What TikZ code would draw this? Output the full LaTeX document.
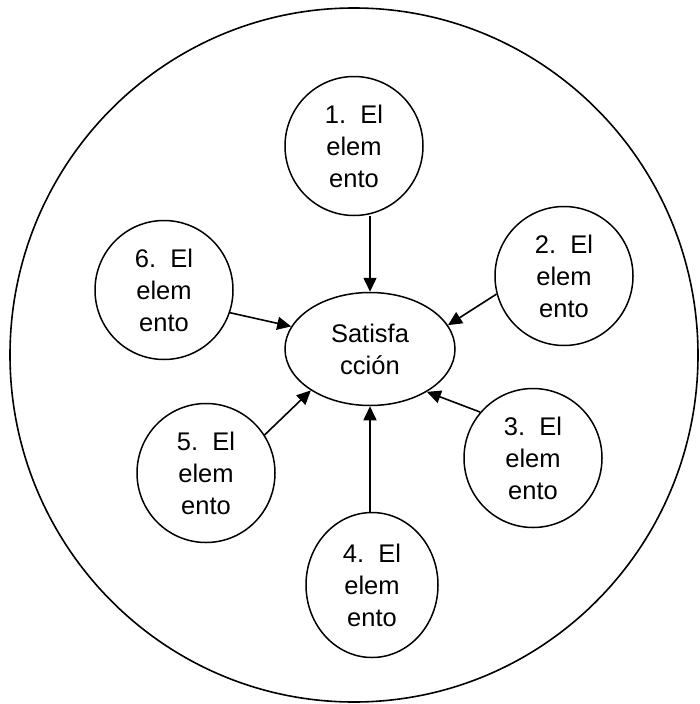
\documentclass[tikz,border=0pt]{standalone}
\usepackage{fontspec}
\setmainfont{Liberation Sans}
\usetikzlibrary{shapes.geometric,arrows.meta}
\begin{document}
\begin{tikzpicture}[x=1pt,y=-1pt,
  elem/.style={draw,line width=1.5pt,ellipse,minimum width=138pt,minimum height=139pt,inner sep=0pt,align=center,font=\fontsize{25.5}{32}\selectfont},
  conn/.style={line width=1.6pt,-{Triangle[length=14pt,width=13pt]}}]
\useasboundingbox (0,0) rectangle (699,704);
\node[draw,line width=1.6pt,ellipse,minimum width=688pt,minimum height=694pt,inner sep=0pt] (outer) at (354,355) {};
\node[draw,line width=1.5pt,ellipse,minimum width=170pt,minimum height=113pt,inner sep=0pt,align=center,font=\fontsize{25.5}{32}\selectfont] (S) at (370,349) {Satisfa\\cción};
\node[elem] (c1) at (354,146) {1.\ \ El\\elem\\ento};
\node[elem] (c2) at (564,276) {2.\ \ El\\elem\\ento};
\node[elem] (c3) at (533,458) {3.\ \ El\\elem\\ento};
\node[elem,minimum width=132pt,minimum height=145pt] (c4) at (372,585) {4.\ \ El\\elem\\ento};
\node[elem] (c5) at (206,473) {5.\ \ El\\elem\\ento};
\node[elem] (c6) at (164,290) {6.\ \ El\\elem\\ento};
\draw[conn] (c1.south -| S.north) -- (S.north);
\draw[conn] (c2.195) -- (S.17);
\draw[conn] (c3.139) -- (S.-37);
\draw[conn] (c4.north -| S.south) -- (S.south);
\draw[conn] (c5.33) -- (S.215);
\draw[conn] (c6.-19) -- (S.164);
\end{tikzpicture}
\end{document}
